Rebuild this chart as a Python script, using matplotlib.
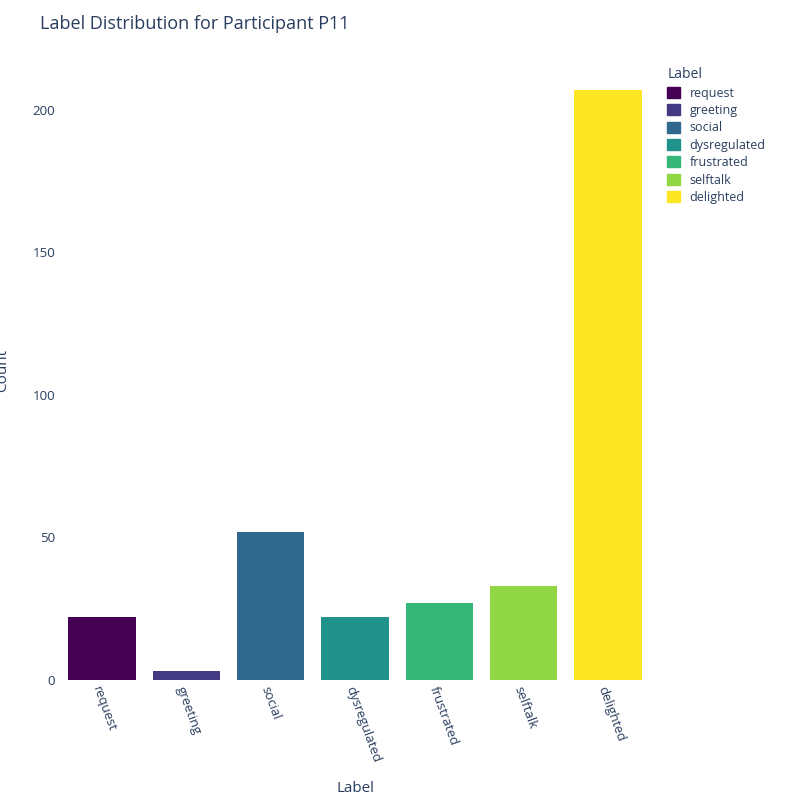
import matplotlib.pyplot as plt
from matplotlib.patches import Patch

labels = ['request', 'greeting', 'social', 'dysregulated', 'frustrated', 'selftalk', 'delighted']
counts = [22, 3, 52, 22, 27, 33, 207]
colors = ['#440154', '#443983', '#31688e', '#21918c', '#35b779', '#90d743', '#fde725']

txt = '#2a3f5f'
plt.rcParams['font.family'] = 'Open Sans'

fig = plt.figure(figsize=(8, 8), dpi=100)
ax = fig.add_axes([0.075, 0.15, 0.7375, 0.775])
ax.bar(range(len(labels)), counts, width=0.8, color=colors)
ax.set_xlim(-0.5, len(labels) - 0.5)
ax.set_ylim(0, 217.5)
ax.set_yticks([0, 50, 100, 150, 200])
ax.set_xticks(range(len(labels)))
ax.set_xticklabels(labels, rotation=-70, ha='left', rotation_mode='anchor')
ax.tick_params(length=0, colors=txt, labelsize=9.5)
for s in ax.spines.values():
    s.set_visible(False)
ax.set_xlabel('Label', color=txt, fontsize=11, labelpad=12)
ax.set_ylabel('Count', color=txt, fontsize=11, labelpad=6)
ax.yaxis.set_label_coords(-0.085, 0.5)
fig.text(0.05, 0.97, 'Label Distribution for Participant P11', color=txt, fontsize=13, va='center')

handles = [Patch(color=c, label=l) for l, c in zip(labels, colors)]
leg = fig.legend(handles=handles, title='Label', loc='upper left', bbox_to_anchor=(0.82, 0.93),
                 frameon=False, fontsize=9, title_fontsize=10, handlelength=1, handleheight=1,
                 labelspacing=0.35, alignment='left')
for t in leg.get_texts():
    t.set_color(txt)
leg.get_title().set_color(txt)

fig.savefig('out.png')
